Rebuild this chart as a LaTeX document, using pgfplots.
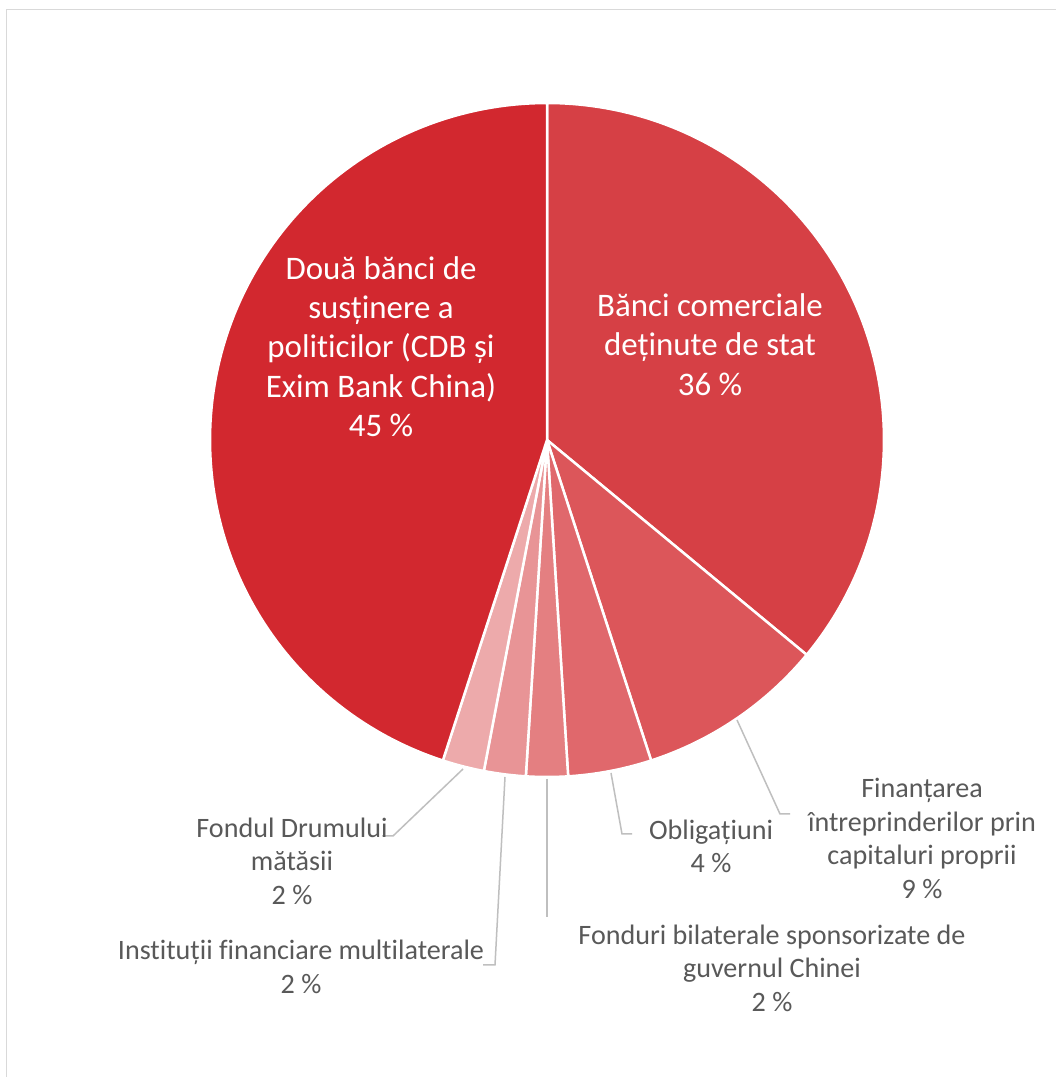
\documentclass[border=0pt]{standalone}
\usepackage{pgfplots}
\pgfplotsset{compat=1.18}
\usepackage{fontspec}
\setmainfont{Carlito}[Ligatures={NoCommon}]
\definecolor{cDoua}{HTML}{D2282F}
\definecolor{cBanci}{HTML}{D64045}
\definecolor{cFin}{HTML}{DC565A}
\definecolor{cObl}{HTML}{E0686C}
\definecolor{cBil}{HTML}{E47F81}
\definecolor{cInst}{HTML}{E89496}
\definecolor{cDrum}{HTML}{EDAAAB}
\definecolor{txt}{HTML}{595959}
\definecolor{lead}{HTML}{BFBFBF}
\definecolor{frame}{HTML}{D9D9D9}
\newcommand\cx{547}
\newcommand\cy{637}
\newcommand\R{337}
% #1 = cumulative share before the slice (%), #2 = share (%), #3 = colour
\newcommand\slice[3]{%
  \addplot[fill=#3, draw=white, line width=2.5pt, line join=round,
    domain=90-3.6*(#1+#2):90-3.6*(#1), samples=120, variable=\t]
    ({\cx+\R*cos(\t)},{\cy+\R*sin(\t)}) -- (axis cs:\cx,\cy) -- cycle;}
\tikzset{inlab/.style={align=center, text=white, font=\fontsize{32.9}{39.3}\selectfont},
         outlab/.style={align=center, text=txt, font=\fontsize{28.1}{33.4}\selectfont}}
\begin{document}
\begin{tikzpicture}
\path[use as bounding box, fill=white] (0,0) rectangle (1056pt,1077pt);
\begin{axis}[x=1pt, y=1pt, xmin=0, xmax=1056, ymin=0, ymax=1077,
  hide axis, scale only axis, clip=false, anchor=south west, at={(0,0)}]
% frame
\addplot[draw=frame, line width=1.5pt, no marks] coordinates {(6.5,0) (6.5,1067.5) (1056,1067.5)};
% slices (values in %)
\slice{0}{36}{cBanci}
\slice{36}{9}{cFin}
\slice{45}{4}{cObl}
\slice{49}{2}{cBil}
\slice{51}{2}{cInst}
\slice{53}{2}{cDrum}
\slice{55}{45}{cDoua}
% leader lines
\addplot[draw=lead, line width=1.5pt, no marks] coordinates {(737,357) (780,263) (790,263)};
\addplot[draw=lead, line width=1.5pt, no marks] coordinates {(611,304) (622,243) (632,243)};
\addplot[draw=lead, line width=1.5pt, no marks] coordinates {(547,298) (547,160)};
\addplot[draw=lead, line width=1.5pt, no marks] coordinates {(505,300) (495,112) (483,112)};
\addplot[draw=lead, line width=1.5pt, no marks] coordinates {(463,308) (393,241) (382,241)};
% labels
\node[inlab] at (axis cs:381,730.5) {Două bănci de\\susținere a\\politicilor (CDB și\\Exim Bank China)\\45 \%};
\node[inlab] at (axis cs:710,732.5) {Bănci comerciale\\deținute de stat\\36 \%};
\node[outlab] at (axis cs:922,238.5) {Finanțarea\\întreprinderilor prin\\capitaluri proprii\\9 \%};
\node[outlab] at (axis cs:711,230.5) {Obligațiuni\\4 \%};
\node[outlab] at (axis cs:772,109) {Fonduri bilaterale sponsorizate de\\guvernul Chinei\\2 \%};
\node[outlab] at (axis cs:301,110) {Instituții financiare multilaterale\\2 \%};
\node[outlab] at (axis cs:292,216) {Fondul Drumului\\mătăsii\\2 \%};
\end{axis}
\end{tikzpicture}
\end{document}
